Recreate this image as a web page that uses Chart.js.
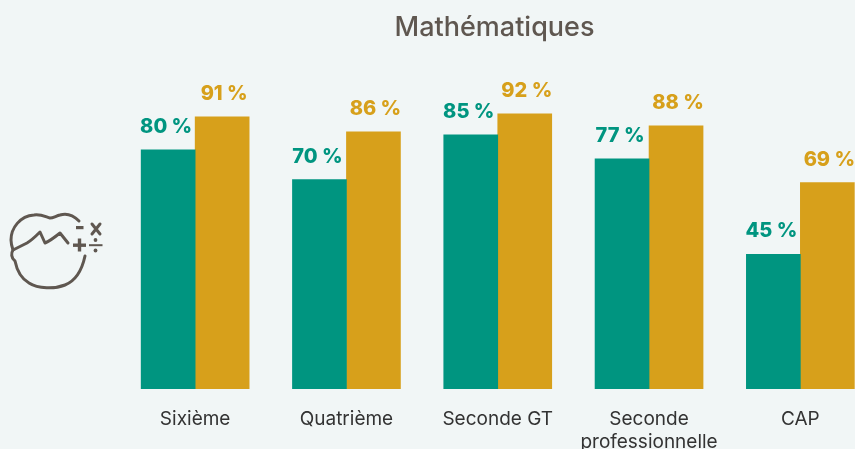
<!DOCTYPE html>
<html lang="fr">
<head>
<meta charset="utf-8">
<title>Mathématiques</title>
<script src="https://cdn.jsdelivr.net/npm/chart.js@4"></script>
<style>
  html, body { margin: 0; padding: 0; width: 855px; height: 449px; overflow: hidden; background: #f1f6f6; }
  #wrap { position: relative; width: 855px; height: 449px; overflow: hidden; }
  #chart { position: absolute; left: 0; top: 0; }
  #icon { position: absolute; left: 0; top: 200px; }
</style>
</head>
<body>
<div id="wrap">
  <canvas id="chart" width="876" height="449"></canvas>
  <!-- head icon left of the chart -->
  <svg id="icon" width="120" height="100" viewBox="0 200 120 100">
    <g fill="none" stroke="#5f5750" stroke-width="3" stroke-linejoin="round" stroke-linecap="round">
      <path d="M79 221 C73 215 66 213 60 215 C56 216 53 218 50 218 C46 217 41 214 34 215 C20 216 11 228 11 240 C11 244 12 247 13 250 L27 243 C32 240 36 236 40 232 L45 243 C50 241 55 237 60 233 L68 243"/>
      <path d="M13 250 C11 253 11 258 15 261 C17 271 22 279 29 283 C38 289 55 289 65 285 C75 281 82 270 85 256"/>
      <path d="M92 224 L100 234 M100 224 L92 234"/>
    </g>
    <g fill="#5f5750">
      <rect x="76" y="226" width="7.5" height="3.2"/>
      <rect x="73" y="243.5" width="13" height="3.4"/>
      <rect x="77.8" y="238.5" width="3.4" height="13"/>
      <rect x="89" y="244.2" width="13.5" height="2"/>
      <circle cx="95.5" cy="240" r="1.9"/>
      <circle cx="95.5" cy="250.5" r="1.9"/>
    </g>
  </svg>
</div>
<script>
// chart data
var titleText = "Mathématiques";
var categories = ["Sixième", "Quatrième", "Seconde GT", ["Seconde", "professionnelle"], "CAP"];
var seriesTeal = [80, 70, 85, 77, 45];
var seriesGold = [91, 86, 92, 88, 69];

var colorTeal = "#009580";
var colorGold = "#d7a01b";
var fontName = "Inter";

// draws the title and the "80 %" labels above each bar
var barLabels = {
    id: "barLabels",
    afterDatasetsDraw: function (chart) {
        var ctx = chart.ctx;
        ctx.save();
        ctx.textAlign = "center";

        ctx.font = "500 27px " + fontName;
        ctx.fillStyle = "#5f5750";
        ctx.textBaseline = "middle";
        ctx.fillText(titleText, 494.5, 28);

        ctx.font = "800 20px " + fontName;
        ctx.textBaseline = "alphabetic";
        chart.data.datasets.forEach(function (ds, i) {
            ctx.fillStyle = ds.backgroundColor;
            chart.getDatasetMeta(i).data.forEach(function (bar, j) {
                var shift = i === 0 ? -2 : 2;
                ctx.fillText(ds.data[j] + " %", bar.x + shift, bar.y - 17);
            });
        });
        ctx.restore();
    }
};

var mathChart = new Chart(document.getElementById("chart"), {
    type: "bar",
    data: {
        labels: categories,
        datasets: [
            { data: seriesTeal, backgroundColor: colorTeal },
            { data: seriesGold, backgroundColor: colorGold }
        ]
    },
    options: {
        responsive: false,
        animation: false,
        barThickness: 54,
        categoryPercentage: 1,
        barPercentage: 1,
        layout: { padding: { left: 119.5, right: 0, top: 90, bottom: 0 } },
        plugins: {
            legend: { display: false },
            tooltip: { enabled: false },
            title: { display: false }
        },
        scales: {
            x: {
                grid: { display: false },
                border: { display: false },
                ticks: {
                    color: "#333333",
                    font: { family: fontName, size: 19, lineHeight: 1.22 },
                    padding: 11,
                    maxRotation: 0,
                    autoSkip: false
                },
                afterFit: function (scale) { scale.height = 60; }
            },
            y: { display: false, min: 0, max: 100 }
        }
    },
    plugins: [barLabels]
});
</script>
</body>
</html>
